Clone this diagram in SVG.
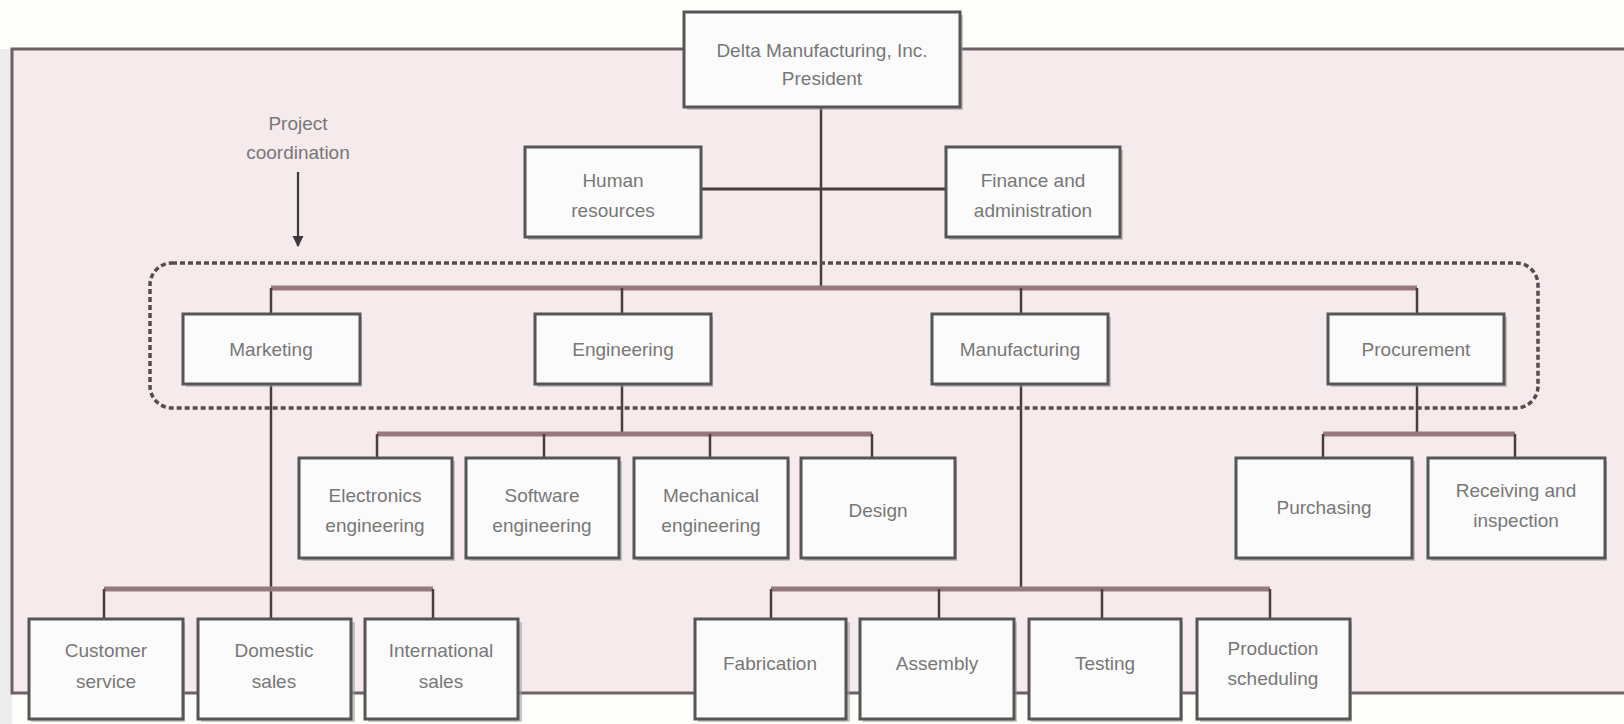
<svg xmlns="http://www.w3.org/2000/svg" width="1624" height="724" viewBox="0 0 1624 724">
<defs>
<marker id="arr" viewBox="0 0 10 10" refX="9" refY="5" markerWidth="5" markerHeight="6" orient="auto" markerUnits="strokeWidth">
<path d="M0,0 L10,5 L0,10 z" fill="#3a3a3a"/>
</marker>
</defs>
<style>
.box{fill:#fcfbfb;stroke:#555;stroke-width:3}
.sh{fill:#9a9a9a;opacity:0.55}
.t{font-family:"Liberation Sans",Arial,sans-serif;font-size:19px;fill:#777;text-anchor:middle}
.bus{stroke:#957880;stroke-width:5;fill:none}
.v{stroke:#4a3c3f;stroke-width:2.5;fill:none}
.frame{stroke:#6e6164;stroke-width:3;fill:none}
</style>
<rect x="0" y="0" width="1624" height="724" fill="#fdfdfa"/>
<rect x="0" y="49" width="12" height="675" fill="#ececec"/>
<rect x="12" y="49" width="1612" height="644" fill="#f5ebec"/>
<path class="frame" d="M1624,49 H12 V693 H1624"/>

<g id="connectors">
<line class="v" x1="821" y1="107" x2="821" y2="288"/>
<line class="v" x1="701" y1="189" x2="946" y2="189" style="stroke-width:3"/>
<line class="bus" x1="271" y1="288" x2="1417" y2="288"/>
<line class="v" x1="271" y1="288" x2="271" y2="314"/>
<line class="v" x1="622" y1="288" x2="622" y2="314"/>
<line class="v" x1="1021" y1="288" x2="1021" y2="314"/>
<line class="v" x1="1417" y1="288" x2="1417" y2="314"/>
<line class="v" x1="622" y1="384" x2="622" y2="434"/>
<line class="bus" x1="377" y1="434" x2="872" y2="434"/>
<line class="v" x1="377" y1="434" x2="377" y2="458"/>
<line class="v" x1="544" y1="434" x2="544" y2="458"/>
<line class="v" x1="710" y1="434" x2="710" y2="458"/>
<line class="v" x1="872" y1="434" x2="872" y2="458"/>
<line class="v" x1="1417" y1="384" x2="1417" y2="434"/>
<line class="bus" x1="1323" y1="434" x2="1515" y2="434"/>
<line class="v" x1="1323" y1="434" x2="1323" y2="458"/>
<line class="v" x1="1515" y1="434" x2="1515" y2="458"/>
<line class="v" x1="271" y1="384" x2="271" y2="619"/>
<line class="bus" x1="104" y1="589" x2="433" y2="589"/>
<line class="v" x1="104" y1="589" x2="104" y2="619"/>
<line class="v" x1="433" y1="589" x2="433" y2="619"/>
<line class="v" x1="1021" y1="384" x2="1021" y2="589"/>
<line class="bus" x1="771" y1="589" x2="1270" y2="589"/>
<line class="v" x1="771" y1="589" x2="771" y2="619"/>
<line class="v" x1="939" y1="589" x2="939" y2="619"/>
<line class="v" x1="1102" y1="589" x2="1102" y2="619"/>
<line class="v" x1="1270" y1="589" x2="1270" y2="619"/>
<line x1="298" y1="172" x2="298" y2="246" stroke="#3a3a3a" stroke-width="2.2" marker-end="url(#arr)"/>
</g>

<g id="project-coordination">
<rect x="150" y="263" width="1388" height="145" rx="22" fill="none" stroke="#5a4a4e" stroke-width="3.5" stroke-dasharray="5 3"/>
<text class="t" x="298" y="130">Project</text>
<text class="t" x="298" y="159">coordination</text>
</g>

<g id="president"><rect class="sh" x="687" y="15" width="276" height="95"/><rect class="box" x="684" y="12" width="276" height="95"/>
<text class="t" x="822" y="57">Delta Manufacturing, Inc.</text><text class="t" x="822" y="85">President</text></g>
<g id="human-resources"><rect class="sh" x="528" y="150" width="174" height="90"/><rect class="box" x="525" y="147" width="176" height="90"/>
<text class="t" x="613" y="187">Human</text><text class="t" x="613" y="217">resources</text></g>
<g id="finance"><rect class="sh" x="949" y="150" width="174" height="90"/><rect class="box" x="946" y="147" width="174" height="90"/>
<text class="t" x="1033" y="187">Finance and</text><text class="t" x="1033" y="217">administration</text></g>

<g id="marketing"><rect class="sh" x="186" y="317" width="176" height="70"/><rect class="box" x="183" y="314" width="177" height="70"/>
<text class="t" x="271" y="356">Marketing</text></g>
<g id="engineering"><rect class="sh" x="537" y="317" width="176" height="70"/><rect class="box" x="535" y="314" width="176" height="70"/>
<text class="t" x="623" y="356">Engineering</text></g>
<g id="manufacturing"><rect class="sh" x="935" y="317" width="176" height="70"/><rect class="box" x="932" y="314" width="176" height="70"/>
<text class="t" x="1020" y="356">Manufacturing</text></g>
<g id="procurement"><rect class="sh" x="1331" y="317" width="176" height="70"/><rect class="box" x="1328" y="314" width="176" height="70"/>
<text class="t" x="1416" y="356">Procurement</text></g>

<g id="electronics"><rect class="sh" x="302" y="461" width="153" height="100"/><rect class="box" x="299" y="458" width="153" height="100"/>
<text class="t" x="375" y="502">Electronics</text><text class="t" x="375" y="532">engineering</text></g>
<g id="software"><rect class="sh" x="469" y="461" width="153" height="100"/><rect class="box" x="466" y="458" width="153" height="100"/>
<text class="t" x="542" y="502">Software</text><text class="t" x="542" y="532">engineering</text></g>
<g id="mechanical"><rect class="sh" x="637" y="461" width="153" height="100"/><rect class="box" x="634" y="458" width="154" height="100"/>
<text class="t" x="711" y="502">Mechanical</text><text class="t" x="711" y="532">engineering</text></g>
<g id="design"><rect class="sh" x="804" y="461" width="153" height="100"/><rect class="box" x="801" y="458" width="154" height="100"/>
<text class="t" x="878" y="517">Design</text></g>

<g id="purchasing"><rect class="sh" x="1239" y="461" width="176" height="100"/><rect class="box" x="1236" y="458" width="176" height="100"/>
<text class="t" x="1324" y="514">Purchasing</text></g>
<g id="receiving"><rect class="sh" x="1431" y="461" width="176" height="100"/><rect class="box" x="1428" y="458" width="177" height="100"/>
<text class="t" x="1516" y="497">Receiving and</text><text class="t" x="1516" y="527">inspection</text></g>

<g id="customer-service"><rect class="sh" x="31" y="622" width="154" height="100"/><rect class="box" x="29" y="619" width="154" height="100"/>
<text class="t" x="106" y="657">Customer</text><text class="t" x="106" y="688">service</text></g>
<g id="domestic-sales"><rect class="sh" x="201" y="622" width="154" height="100"/><rect class="box" x="198" y="619" width="153" height="100"/>
<text class="t" x="274" y="657">Domestic</text><text class="t" x="274" y="688">sales</text></g>
<g id="international-sales"><rect class="sh" x="368" y="622" width="154" height="100"/><rect class="box" x="365" y="619" width="153" height="100"/>
<text class="t" x="441" y="657">International</text><text class="t" x="441" y="688">sales</text></g>

<g id="fabrication"><rect class="sh" x="698" y="622" width="152" height="100"/><rect class="box" x="695" y="619" width="151" height="100"/>
<text class="t" x="770" y="670">Fabrication</text></g>
<g id="assembly"><rect class="sh" x="863" y="622" width="154" height="100"/><rect class="box" x="860" y="619" width="154" height="100"/>
<text class="t" x="937" y="670">Assembly</text></g>
<g id="testing"><rect class="sh" x="1031" y="622" width="152" height="100"/><rect class="box" x="1029" y="619" width="152" height="100"/>
<text class="t" x="1105" y="670">Testing</text></g>
<g id="production-scheduling"><rect class="sh" x="1200" y="622" width="152" height="100"/><rect class="box" x="1197" y="619" width="153" height="100"/>
<text class="t" x="1273" y="655">Production</text><text class="t" x="1273" y="685">scheduling</text></g>
</svg>
